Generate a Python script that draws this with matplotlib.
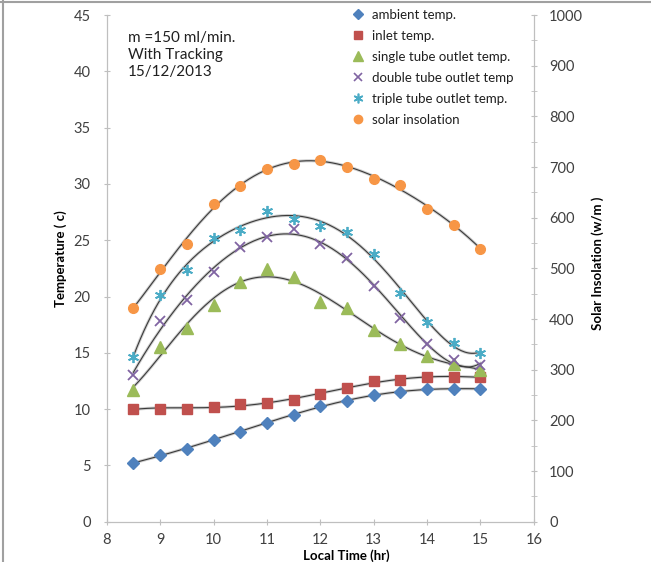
import numpy as np
import matplotlib.pyplot as plt
from matplotlib.lines import Line2D

plt.rcParams['font.family'] = ['Lato', 'DejaVu Sans']

# local time (hr)
time = [8.5, 9, 9.5, 10, 10.5, 11, 11.5, 12, 12.5, 13, 13.5, 14, 14.5, 15]

# temperatures (c)
ambient = [5.2, 5.9, 6.5, 7.3, 8.0, 8.8, 9.5, 10.3, 10.7, 11.25, 11.5, 11.8, 11.8, 11.8]
inlet = [10.0, 10.05, 10.05, 10.2, 10.45, 10.5, 10.8, 11.35, 11.9, 12.5, 12.6, 12.85, 12.85, 12.85]
single_tube = [11.7, 15.5, 17.2, 19.25, 21.25, 22.4, 21.7, 19.5, 19.0, 17.0, 15.8, 14.7, 14.0, 13.5]
double_tube = [13.0, 17.8, 19.7, 22.2, 24.4, 25.25, 26.0, 24.7, 23.4, 20.9, 18.1, 15.75, 14.4, 13.9]
triple_tube = [14.6, 20.1, 22.35, 25.2, 25.9, 27.6, 26.9, 26.3, 25.7, 23.75, 20.3, 17.7, 15.85, 15.0]

# solar insolation (w/m2)
solar = [421, 498, 549, 627, 663, 697, 706, 714, 701, 677, 664, 618, 586, 539]

labels = ['ambient temp.', 'inlet temp.', 'single tube outlet temp.',
          'double tube outlet temp', 'triple tube outlet temp.', 'solar insolation']
colors = ['#4F81BD', '#C0504D', '#9BBB59', '#8064A2', '#4BACC6', '#F79646']
markers = ['D', 's', '^', 'x', (6, 2, 0), 'o']
sizes = [6, 7, 8, 7, 8, 7]

fig = plt.figure(figsize=(6.51, 5.62), dpi=100)
ax = fig.add_axes([0.164, 0.0717, 0.656, 0.9016])
ax2 = ax.twinx()

xs = np.linspace(time[0], time[-1], 200)
t = np.array(time)


def trend(axis, y, deg=5):
    c = np.polyfit(t, y, deg)
    axis.plot(xs, np.polyval(c, xs), color='#cfcfcf', lw=2.2, zorder=2)
    axis.plot(xs, np.polyval(c, xs), color='#3a3a3a', lw=0.8, zorder=3)


def is_line_marker(m):
    return m == 'x' or isinstance(m, tuple)


temps = [ambient, inlet, single_tube, double_tube, triple_tube]
for i, y in enumerate(temps):
    trend(ax, y)
    if is_line_marker(markers[i]):
        ax.plot(time, y, ls='none', marker=markers[i], color=colors[i],
                ms=sizes[i], mew=1.3, zorder=4)
    else:
        ax.plot(time, y, ls='none', marker=markers[i], color=colors[i],
                ms=sizes[i], mec=colors[i], zorder=4)

trend(ax2, solar)
ax2.plot(time, solar, ls='none', marker='o', color=colors[5], ms=sizes[5], zorder=4)

ax.set_xlim(8, 16)
ax.set_ylim(0, 45)
ax2.set_ylim(0, 1000)
ax.set_xticks(range(8, 17))
ax.set_yticks(range(0, 46, 5))
ax2.set_yticks(range(0, 1001, 100))
ax2.set_yticks(range(50, 1000, 100), minor=True)

for a in (ax, ax2):
    for s in a.spines.values():
        s.set_color('#bfbfbf')
    a.spines['top'].set_visible(False)
    a.tick_params(colors='#bfbfbf', labelcolor='#404040', labelsize=10.5,
                  direction='inout', length=5, width=0.8, pad=9)
ax.tick_params(axis='x', pad=5.5)
ax2.tick_params(pad=8.5)
ax2.tick_params(which='minor', colors='#bfbfbf', direction='inout', length=5)

ax.set_xlabel('Local Time (hr)', fontsize=9.5, fontweight='bold')
ax.set_ylabel('Temperature ( c)', fontsize=9.5, fontweight='bold')
ax2.set_ylabel('Solar Insolation (w/m )', fontsize=9.5, fontweight='bold')
ax.xaxis.set_label_coords(0.56, -0.054)
ax.yaxis.set_label_coords(-0.094, 0.52)
ax2.yaxis.set_label_coords(1.135, 0.51)

ax.text(8.39, 43.6, 'm =150 ml/min.\nWith Tracking\n15/12/2013', fontsize=11,
        va='top', ha='left', color='#202020', linespacing=1.27)

handles = []
for i in range(6):
    if is_line_marker(markers[i]):
        handles.append(Line2D([], [], ls='none', marker=markers[i], color=colors[i],
                              ms=sizes[i] - 1, mew=1.2))
    else:
        handles.append(Line2D([], [], ls='none', marker=markers[i], color=colors[i],
                              ms=sizes[i] - 1))
leg = ax.legend(handles, labels, loc='upper left', bbox_to_anchor=(0.577, 1.012),
                frameon=False, fontsize=9.5, handlelength=0.8, handletextpad=0.6,
                labelspacing=0.68, borderaxespad=0, borderpad=0)
for txt in leg.get_texts():
    txt.set_color('#202020')

# outer chart frame (top and left edges)
fig.add_artist(Line2D([0, 1], [0.997, 0.997], color='#a0a0a0', lw=1.5, transform=fig.transFigure))
fig.add_artist(Line2D([0.005, 0.005], [0, 1], color='#a0a0a0', lw=1.5, transform=fig.transFigure))

fig.savefig('out.png', dpi=100)
